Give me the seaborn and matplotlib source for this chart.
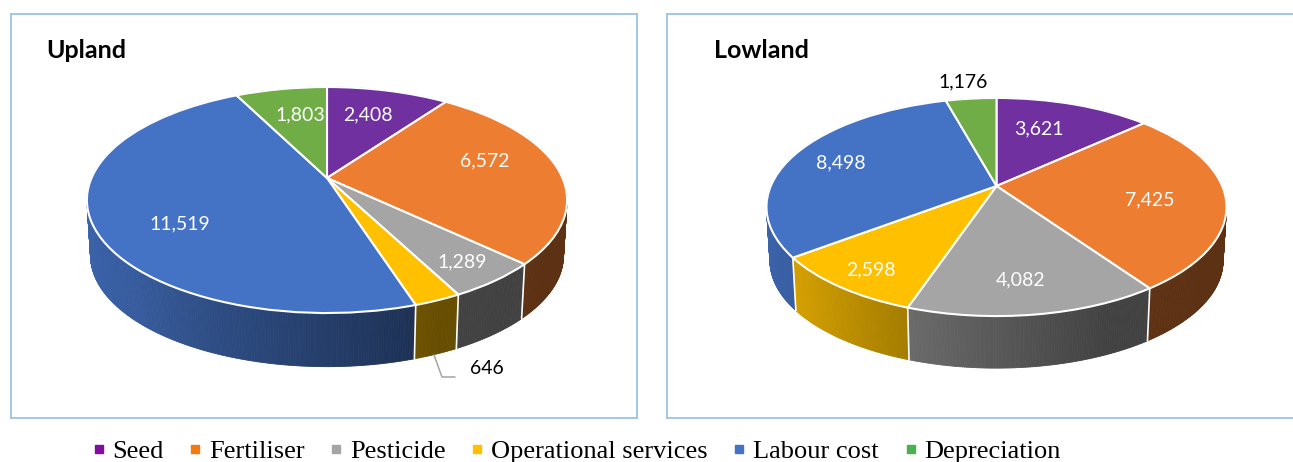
import matplotlib
matplotlib.use("Agg")
import matplotlib.pyplot as plt
import matplotlib.transforms as mtransforms
from matplotlib.collections import PolyCollection
from matplotlib.lines import Line2D
import numpy as np
import seaborn as sns

categories = ["Seed", "Fertiliser", "Pesticide", "Operational services", "Labour cost", "Depreciation"]
upland_values = [2408, 6572, 1289, 646, 11519, 1803]
lowland_values = [3621, 7425, 4082, 2598, 8498, 1176]
slice_colors = ["#7030A0", "#ED7D31", "#A5A5A5", "#FFC000", "#4472C4", "#70AD47"]
legend_colors = ["#7F0FA0", "#F4790F", "#A5A5A5", "#FFC000", "#4472C4", "#4CB050"]

W, H = 1293, 462
BOX = "#9DC3E6"

# label spots in figure pixels
upland_xy = [(368, 115), (485, 161), (462, 262), (487, 369), (180, 224), (300, 115)]
lowland_xy = [(1039, 129), (1150, 200), (1021, 280), (871, 270), (841, 163), (963, 82)]


class Persp(mtransforms.Transform):
    # unit circle -> tilted disc in pixels
    input_dims = 2
    output_dims = 2

    def __init__(self, cx, cy, a, b, k):
        super().__init__()
        self.cx, self.cy, self.a, self.b, self.k = cx, cy, a, b, k

    def transform_non_affine(self, values):
        values = np.asarray(values)
        d = 1 + self.k * values[:, 1]
        return np.column_stack(
            [self.cx + self.a * values[:, 0] / d, self.cy - self.b * values[:, 1] / d]
        )


def shade(x):
    return np.interp(x, [-1, -0.72, -0.38, 0.4, 1], [0.88, 0.81, 0.67, 0.40, 0.39])


def draw_pie(ax, values, xy, title, title_x, cx, cy, a, b, k, depth, outside):
    top = Persp(cx, cy, a, b, k)
    low = Persp(cx, cy + depth, a * 0.985, b * 0.985, k)

    total = sum(values)
    edges = np.cumsum([0] + values) / total * 2 * np.pi
    polys, cols = [], []
    for i in range(len(values)):
        n = max(2, int(np.degrees(edges[i + 1] - edges[i]) * 2))
        t = np.linspace(edges[i], edges[i + 1], n)
        rim = np.column_stack([np.sin(t), np.cos(t)])
        up, dn = top.transform(rim), low.transform(rim)
        base = np.array(matplotlib.colors.to_rgb(slice_colors[i]))
        for j in range(n - 1):
            polys.append([up[j], up[j + 1], dn[j + 1], dn[j]])
            cols.append((rim[j, 1], base * shade(rim[j, 0])))
    order = np.argsort([-c[0] for c in cols])
    wall_cols = [cols[o][1] for o in order]
    ax.add_collection(
        PolyCollection(
            [polys[o] for o in order], facecolors=wall_cols, edgecolors=wall_cols,
            linewidths=0.6, zorder=1,
        )
    )
    for e in edges[:-1]:
        p = np.array([[np.sin(e), np.cos(e)]])
        u, d = top.transform(p)[0], low.transform(p)[0]
        ax.plot([u[0], d[0]], [u[1], d[1]], color="white", lw=1.2, zorder=1.5)

    wedges, _ = ax.pie(
        values, colors=sns.color_palette(slice_colors), startangle=90, counterclock=False,
        wedgeprops=dict(edgecolor="white", linewidth=1.5),
    )
    for w in wedges:
        w.set_transform(top + ax.transData)
        w.set_zorder(2)

    ax.set_aspect("auto")
    ax.set_xlim(*XLIM[title])
    ax.set_ylim(418, 14)
    ax.set_frame_on(True)
    ax.set_xticks([])
    ax.set_yticks([])
    for side, s in ax.spines.items():
        s.set_color(BOX)
        s.set_linewidth(1.3)

    for i, v in enumerate(values):
        ax.text(
            xy[i][0], xy[i][1], f"{v:,}", ha="center", va="center", fontsize=14,
            family="Lato", color="black" if i == outside else "white", zorder=3,
        )
    ax.text(title_x, 51, title, ha="left", va="center", fontsize=18, family="Lato",
            fontweight="bold", color="black", zorder=3)


XLIM = {"Upland": (11, 637), "Lowland": (667, 1293)}

sns.set_theme(style="white")
fig = plt.figure(figsize=(W / 100, H / 100), dpi=100)


def box(x0, x1):
    return [x0 / W, 1 - 418 / H, (x1 - x0) / W, 404 / H]


ax1 = fig.add_axes(box(11, 637))
ax2 = fig.add_axes(box(667, 1293))
draw_pie(ax1, upland_values, upland_xy, "Upland", 46, 327, 178, 235.5, 108.7, 0.1947, 55.7, 3)
draw_pie(ax2, lowland_values, lowland_xy, "Lowland", 714, 996.5, 186, 225.7, 105, 0.1927, 54, 5)
ax2.spines["right"].set_visible(False)

# leader for the small slice
ax1.plot([434, 442, 455], [355, 377, 377], color="#A5A5A5", lw=1.1, zorder=1)

handles = [
    Line2D([], [], marker="s", ls="", markersize=6, color=c, label=n)
    for c, n in zip(legend_colors, categories)
]
fig.legend(
    handles=handles, ncols=6, loc="center left", bbox_to_anchor=(85.5 / W, 1 - 451 / H),
    frameon=False, prop=dict(family="Liberation Serif", size=19),
    handletextpad=0.02, columnspacing=0.7, handlelength=1.0, borderpad=0, borderaxespad=0,
    labelcolor="black",
)

fig.savefig("out.png", dpi=100)
